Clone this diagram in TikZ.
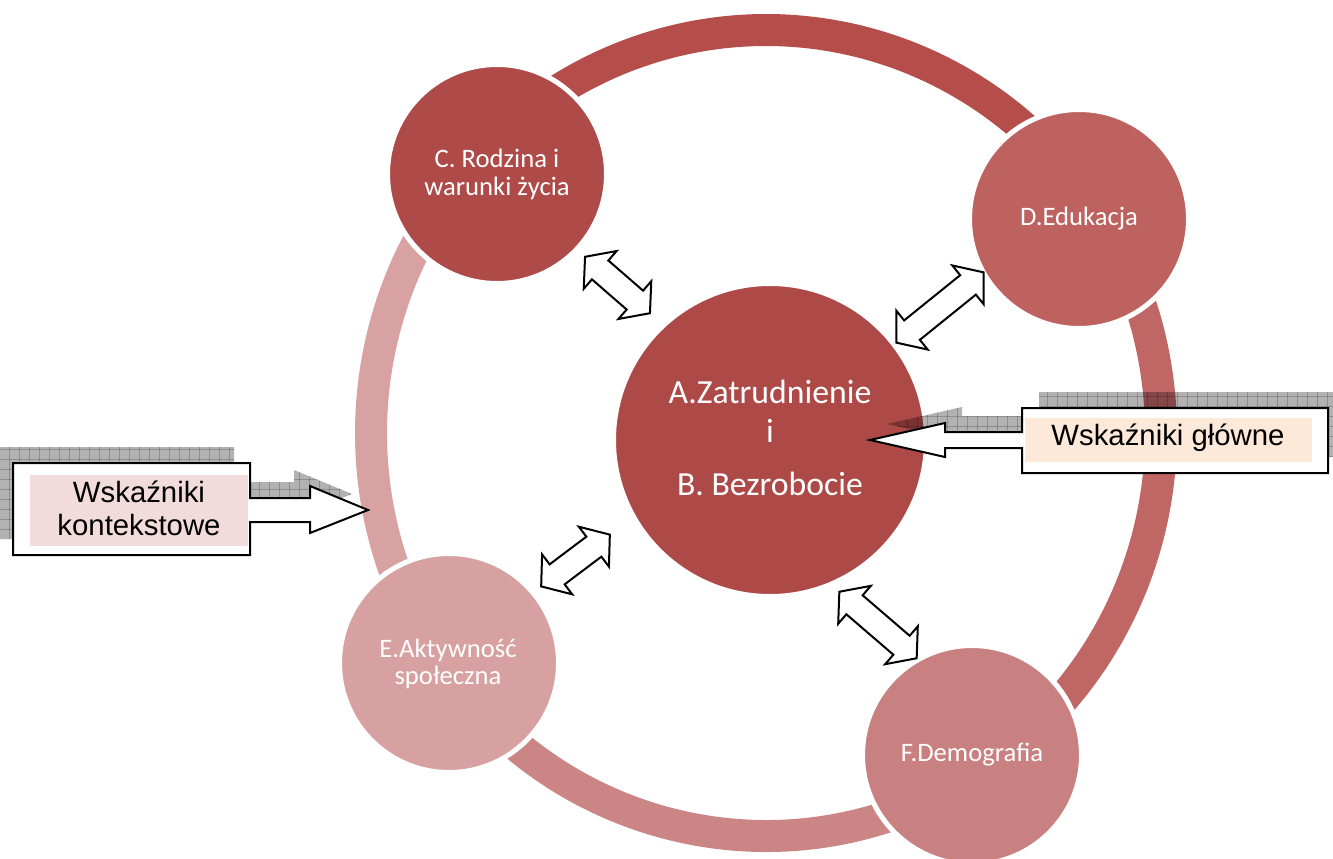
\documentclass[tikz,border=0pt]{standalone}
\usepackage{fontspec}
\setmainfont{Carlito}
\newfontfamily\arialfont{Liberation Sans}
\definecolor{colA}{HTML}{AD4A48}
\definecolor{colC}{HTML}{AE4A48}
\definecolor{colD}{HTML}{BE6260}
\definecolor{colE}{HTML}{D8A1A1}
\definecolor{colF}{HTML}{C98080}
\definecolor{ringTop}{HTML}{B54D4B}
\definecolor{ringRight}{HTML}{C06766}
\definecolor{ringBottom}{HTML}{CB8584}
\definecolor{ringLeft}{HTML}{D8A2A2}
\definecolor{pinkFill}{HTML}{F2DCDB}
\definecolor{peachFill}{HTML}{FDE9D9}
\newcommand\leftcallout{(13,463) -- (250,463) -- (250,498) -- (310,498) -- (310,486) -- (368,510) -- (310,533) -- (310,522) -- (250,522) -- (250,555) -- (13,555) -- cycle}
\newcommand\rightcallout{(1022,408) -- (1328,408) -- (1328,473) -- (1022,473) -- (1022,448) -- (945,448) -- (945,457) -- (870,440) -- (945,423) -- (945,432) -- (1022,432) -- cycle}
\tikzset{
  ringseg/.style={line width=24pt},
  bubble/.style={circle, draw=white, line width=3.75pt, inner sep=0pt, outer sep=0pt},
  ctext/.style={text=white, font=\fontsize{20}{24}\selectfont, anchor=base, inner sep=0pt},
  atext/.style={text=white, font=\fontsize{25.3}{30}\selectfont, anchor=base, inner sep=0pt},
  arrowline/.style={draw=black, fill=white, line width=1.5pt, line join=miter},
  callout/.style={draw=black, fill=white, line width=1.5pt, line join=miter},
  shadowbase/.style={fill=black, fill opacity=0.3},
  shadowgrid/.style={draw=black, draw opacity=0.2, line width=0.6pt},
  ltext/.style={font=\arialfont\fontsize{22}{26}\selectfont, anchor=base, inner sep=0pt, text=black},
  pics/dblarrow/.style={code={
    \draw[arrowline] (-#1,0) -- (-#1+20,25) -- (-#1+20,12.5) -- (#1-20,12.5) -- (#1-20,25) -- (#1,0)
      -- (#1-20,-25) -- (#1-20,-12.5) -- (-#1+20,-12.5) -- (-#1+20,-25) -- cycle;
  }}
}
\begin{document}
\begin{tikzpicture}[x=0.75pt,y=-0.75pt]
\useasboundingbox (0,0) rectangle (1333,858);
\clip (0,0) rectangle (1333,858);
\fill[white] (0,0) rectangle (1333,858);
\coordinate (O) at (766,433);
% ring segments
\draw[ringseg, ringTop]    (O) ++(-136.1:395 and 403) arc[start angle=-136.1, end angle=-34.4, x radius=395, y radius=403];
\draw[ringseg, ringRight]  (O) ++(-34.4:395 and 403) arc[start angle=-34.4, end angle=57.4, x radius=395, y radius=403];
\draw[ringseg, ringBottom] (O) ++(57.4:395 and 403) arc[start angle=57.4, end angle=144, x radius=395, y radius=403];
\draw[ringseg, ringLeft]   (O) ++(144:395 and 403) arc[start angle=144, end angle=223.9, x radius=395, y radius=403];
% circles
\node[bubble, fill=colC, minimum size=164.25pt] (C) at (497,174) {};
\node[bubble, fill=colD, minimum size=164.25pt] (D) at (1079,219) {};
\node[bubble, fill=colE, minimum size=164.25pt] (E) at (449,663) {};
\node[bubble, fill=colF, minimum size=164.25pt] (F) at (972,755) {};
\node[bubble, fill=colA, minimum size=234.75pt] (A) at (770,440) {};
% circle texts
\node[ctext] (c1) at (497,167) {C. Rodzina i};
\node[ctext] (c2) at (497,195) {warunki życia};
\node[ctext] (d1) at (1079,225) {D.Edukacja};
\node[ctext] (e1) at (448,657) {E.Aktywność};
\node[ctext] (e2) at (448,684) {społeczna};
\node[ctext] (f1) at (972,761) {F.Demografia};
\node[atext] (a1) at (770,403) {A.Zatrudnienie};
\node[atext] (a2) at (770,442) {i};
\node[atext] (a3) at (770,495) {B. Bezrobocie};
% double arrows
\pic[rotate=-41] (arrCA) at (617.5,285) {dblarrow=43};
\pic[rotate=38.9] (arrAD) at (940,307.5) {dblarrow=56};
\pic[rotate=37] (arrEA) at (575.5,560.5) {dblarrow=43};
\pic[rotate=-40.7] (arrAF) at (878,625) {dblarrow=51};
% shadows
\begin{scope}[shift={(-16,-16)}]
  \fill[shadowbase] \leftcallout;
  \begin{scope}
    \clip \leftcallout;
    \foreach \gx in {-5,5,...,375} {\draw[shadowgrid] (\gx,450) -- (\gx,570);}
    \foreach \gy in {465,475,...,565} {\draw[shadowgrid] (0,\gy) -- (380,\gy);}
  \end{scope}
\end{scope}
\begin{scope}[shift={(17,-16)}]
  \fill[shadowbase] \rightcallout;
  \begin{scope}
    \clip \rightcallout;
    \foreach \gx in {860,870,...,1340} {\draw[shadowgrid] (\gx,400) -- (\gx,480);}
    \foreach \gy in {412,422,...,472} {\draw[shadowgrid] (860,\gy) -- (1340,\gy);}
  \end{scope}
\end{scope}
% callouts
\draw[callout] \leftcallout;
\fill[pinkFill] (30,475) rectangle (248,546);
\draw[black, line width=1.5pt] (250,463) -- (250,498) (250,522) -- (250,555);
\node[ltext] (l1) at (139,502) {Wskaźniki};
\node[ltext] (l2) at (139,535) {kontekstowe};
\draw[callout] \rightcallout;
\fill[peachFill] (1025,418) rectangle (1312,462);
\node[ltext] (r1) at (1168,445) {Wskaźniki główne};
\end{tikzpicture}
\end{document}
